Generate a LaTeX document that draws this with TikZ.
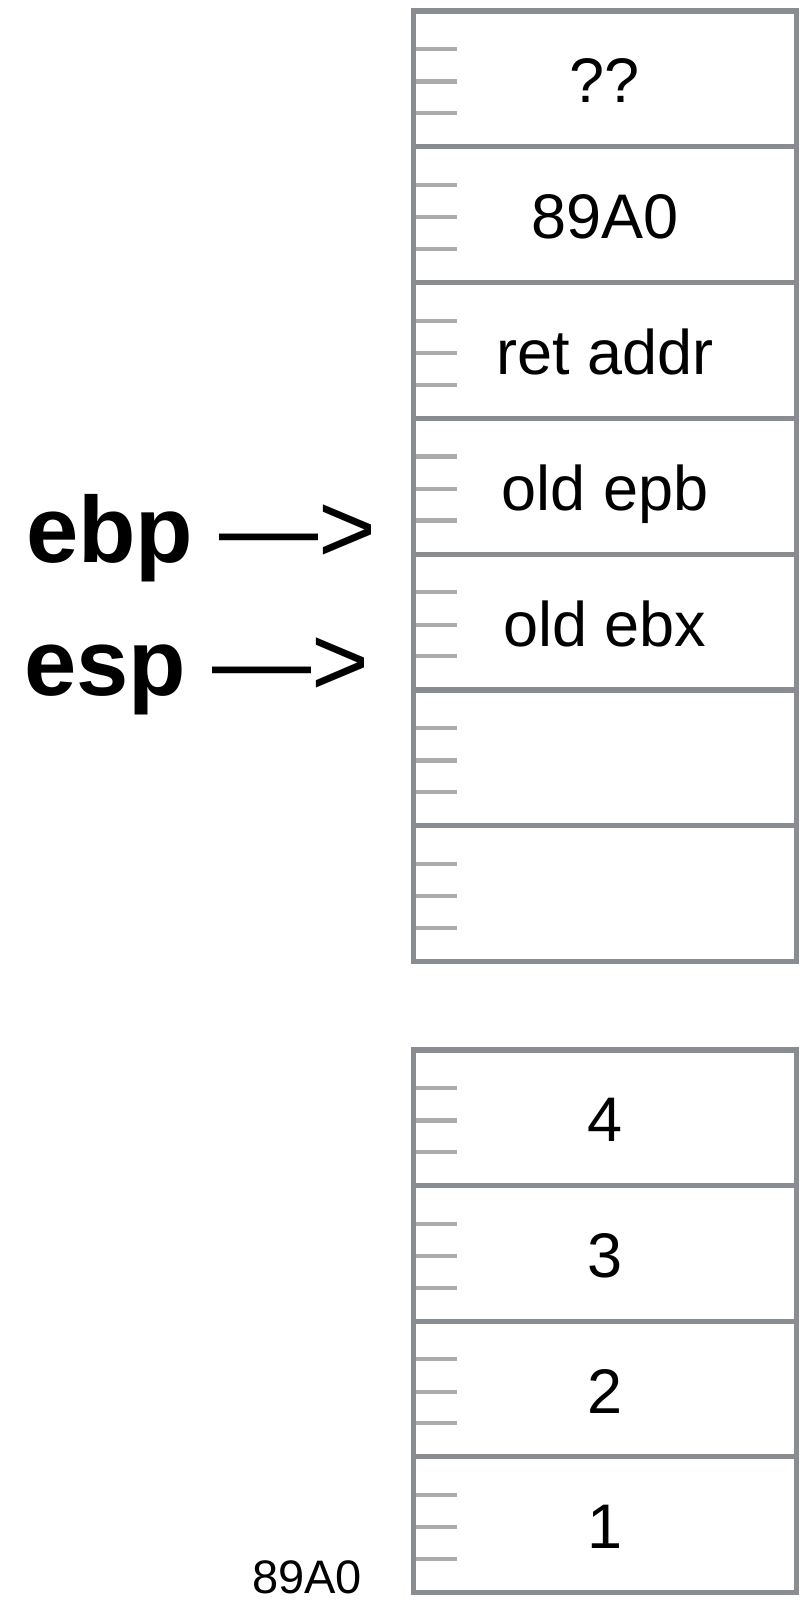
\documentclass[tikz,border=0pt]{standalone}
\usepackage{fontspec}
\setmainfont{Liberation Sans}
\usetikzlibrary{calc}
\definecolor{boxgray}{HTML}{898C90}
\definecolor{tickgray}{HTML}{A9ACA9}
\newcommand{\regarrow}[1]{{\fontsize{94}{110}\selectfont\textbf{#1}}\hspace{26pt}{\fontsize{99}{110}\selectfont —>}}
\begin{document}
\begin{tikzpicture}[x=1pt,y=-1pt,
  cell/.style={draw=boxgray,line width=5.2pt,minimum width=383pt,minimum height=135.8pt,
    inner sep=0pt,outer sep=0pt,anchor=north west,text height=48pt,text depth=0pt,
    font=\fontsize{63}{72}\selectfont},
  tickline/.style={draw=tickgray,line width=4.2pt},
  reglabel/.style={anchor=base west,inner sep=0pt},
  addrlabel/.style={anchor=base east,inner sep=0pt,font=\fontsize{47}{56}\selectfont}]
\useasboundingbox (0,0) rectangle (810,1602);
% top stack
\node[cell] (t1) at (413.5,11) {??};
\node[cell] (t2) at (413.5,146.8) {89A0};
\node[cell] (t3) at (413.5,282.6) {ret addr};
\node[cell] (t4) at (413.5,418.4) {old epb};
\node[cell] (t5) at (413.5,554.2) {old ebx};
\node[cell] (t6) at (413.5,690) {};
\node[cell] (t7) at (413.5,825.8) {};
% bottom stack
\node[cell,minimum height=135.6pt] (b4) at (413.5,1050) {4};
\node[cell,minimum height=135.6pt] (b3) at (413.5,1185.6) {3};
\node[cell,minimum height=135.6pt] (b2) at (413.5,1321.2) {2};
\node[cell,minimum height=135.6pt] (b1) at (413.5,1456.8) {1};
% ticks
\foreach \n in {t1,t2,t3,t4,t5,t6,t7,b4,b3,b2,b1}
  \foreach \d in {38,70.5,102}
    \draw[tickline] ($(\n.north west)+(2.6,\d)$) -- ++(41,0);
% register labels
\node[reglabel] (ebp) at (26,562) {\regarrow{ebp}};
\node[reglabel] (esp) at (24,695) {\regarrow{esp}};
% address label
\node[addrlabel] (addr) at (362,1593) {89A0};
\end{tikzpicture}
\end{document}
